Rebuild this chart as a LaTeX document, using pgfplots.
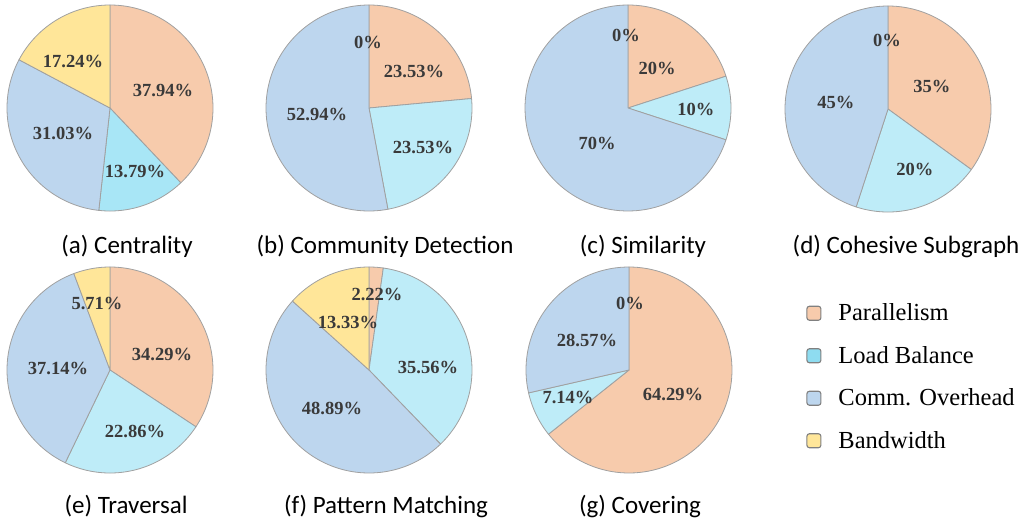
\documentclass[border=0pt]{standalone}
\usepackage{pgfplots}
\pgfplotsset{compat=1.18}
\usepackage{fontspec}
\setmainfont{Liberation Serif}
\newfontfamily\capfont{Carlito}
\definecolor{cPar}{HTML}{F7CBAC}
\definecolor{cLB}{HTML}{BEECF8}
\definecolor{cLBa}{HTML}{A8E6F6}
\definecolor{cLBleg}{HTML}{8EDCF0}
\definecolor{cCom}{HTML}{BDD6EE}
\definecolor{cBW}{HTML}{FFE699}
\definecolor{cEdge}{HTML}{A0A0A0}
\definecolor{cTxt}{HTML}{3A3A3A}

\gdef\cum{0}
\newcommand{\slice}[2]{%
  \pgfmathsetmacro\sA{90-3.6*\cum}%
  \pgfmathsetmacro\sB{90-3.6*(\cum+#1)}%
  \pgfmathsetmacro\newcum{\cum+#1}%
  \xdef\cum{\newcum}%
  \ifdim #1pt>0pt
    \edef\tmpplot{\noexpand\addplot[forget plot, fill=#2, draw=cEdge, line width=0.8pt, line join=round, domain=\sB:\sA, samples=90]}%
    \tmpplot ({cos(x)},{sin(x)}) -- (axis cs:0,0) -- cycle;
  \fi
}
\pgfplotsset{
  pie/.style={hide axis, scale only axis, width=206pt, height=206pt,
    xmin=-1, xmax=1, ymin=-1, ymax=1, anchor=center, clip=false},
}
\tikzset{
  lab/.style={font=\bfseries\fontsize{18.5}{18.5}\selectfont, text=cTxt, inner sep=0pt},
  captxt/.style={font=\capfont\fontsize{25}{25}\selectfont, anchor=base, inner sep=0pt},
}

\begin{document}
\begin{tikzpicture}
\path[use as bounding box] (0pt,0pt) rectangle (1023pt,-523pt);

% (a) Centrality
\begin{axis}[pie, at={(110pt,-108pt)}]
\gdef\cum{0}
\slice{37.94}{cPar}
\slice{13.79}{cLBa}
\slice{31.03}{cCom}
\slice{17.24}{cBW}
\node[lab] at (axis cs:0.515,0.175) {37.94\%};
\node[lab] at (axis cs:0.243,-0.621) {13.79\%};
\node[lab] at (axis cs:-0.456,-0.252) {31.03\%};
\node[lab] at (axis cs:-0.359,0.456) {17.24\%};
\end{axis}

% (b) Community Detection
\begin{axis}[pie, at={(369pt,-108pt)}]
\gdef\cum{0}
\slice{23.53}{cPar}
\slice{23.53}{cLB}
\slice{52.94}{cCom}
\slice{0}{cBW}
\node[lab] at (axis cs:0.437,0.350) {23.53\%};
\node[lab] at (axis cs:0.524,-0.379) {23.53\%};
\node[lab] at (axis cs:-0.505,-0.058) {52.94\%};
\node[lab] at (axis cs:-0.01,0.641) {0\%};
\end{axis}

% (c) Similarity
\begin{axis}[pie, at={(628pt,-108pt)}]
\gdef\cum{0}
\slice{20}{cPar}
\slice{10}{cLB}
\slice{70}{cCom}
\slice{0}{cBW}
\node[lab] at (axis cs:0.282,0.388) {20\%};
\node[lab] at (axis cs:0.660,-0.019) {10\%};
\node[lab] at (axis cs:-0.301,-0.340) {70\%};
\node[lab] at (axis cs:-0.019,0.709) {0\%};
\end{axis}

% (d) Cohesive Subgraph
\begin{axis}[pie, at={(888pt,-109pt)}]
\gdef\cum{0}
\slice{35}{cPar}
\slice{20}{cLB}
\slice{45}{cCom}
\slice{0}{cBW}
\node[lab] at (axis cs:0.427,0.223) {35\%};
\node[lab] at (axis cs:0.262,-0.583) {20\%};
\node[lab] at (axis cs:-0.505,0.068) {45\%};
\node[lab] at (axis cs:-0.01,0.670) {0\%};
\end{axis}

% (e) Traversal
\begin{axis}[pie, at={(110pt,-370pt)}]
\gdef\cum{0}
\slice{34.29}{cPar}
\slice{22.86}{cLB}
\slice{37.14}{cCom}
\slice{5.71}{cBW}
\node[lab] at (axis cs:0.505,0.155) {34.29\%};
\node[lab] at (axis cs:0.243,-0.592) {22.86\%};
\node[lab] at (axis cs:-0.505,0.019) {37.14\%};
\node[lab] at (axis cs:-0.126,0.650) {5.71\%};
\end{axis}

% (f) Pattern Matching
\begin{axis}[pie, at={(369pt,-370pt)}]
\gdef\cum{0}
\slice{2.22}{cPar}
\slice{35.56}{cLB}
\slice{48.89}{cCom}
\slice{13.33}{cBW}
\node[lab] at (axis cs:0.078,0.738) {2.22\%};
\node[lab] at (axis cs:0.573,0.029) {35.56\%};
\node[lab] at (axis cs:-0.359,-0.369) {48.89\%};
\node[lab] at (axis cs:-0.204,0.466) {13.33\%};
\end{axis}

% (g) Covering + legend
\begin{axis}[pie, at={(629pt,-370pt)},
  legend style={at={(1.36,0.836)}, anchor=north west, draw=none, fill=none,
    font=\fontsize{24.5}{24.5}\selectfont, row sep=18pt, inner sep=0pt,
    nodes={inner sep=3pt}},
  legend cell align=left]
\gdef\cum{0}
\slice{64.29}{cPar}
\slice{7.14}{cLB}
\slice{28.57}{cCom}
\slice{0}{cBW}
\node[lab] at (axis cs:0.427,-0.233) {64.29\%};
\node[lab] at (axis cs:-0.592,-0.262) {7.14\%};
\node[lab] at (axis cs:-0.408,0.291) {28.57\%};
\node[lab] at (axis cs:0.01,0.650) {0\%};
\addlegendimage{legend image code/.code={\draw[rounded corners=2.5pt, draw=gray, line width=1.1pt, fill=cPar] (0pt,-7pt) rectangle (14pt,7pt);}}
\addlegendentry{\hspace{14pt}Parallelism}
\addlegendimage{legend image code/.code={\draw[rounded corners=2.5pt, draw=gray, line width=1.1pt, fill=cLBleg] (0pt,-7pt) rectangle (14pt,7pt);}}
\addlegendentry{\hspace{14pt}Load Balance}
\addlegendimage{legend image code/.code={\draw[rounded corners=2.5pt, draw=gray, line width=1.1pt, fill=cCom] (0pt,-7pt) rectangle (14pt,7pt);}}
\addlegendentry{\hspace{14pt}Comm. Overhead}
\addlegendimage{legend image code/.code={\draw[rounded corners=2.5pt, draw=gray, line width=1.1pt, fill=cBW] (0pt,-7pt) rectangle (14pt,7pt);}}
\addlegendentry{\hspace{14pt}Bandwidth}
\end{axis}

% captions
\node[captxt] at (127pt,-253pt) {(a) Centrality};
\node[captxt] at (385pt,-253pt) {(b) Community Detection};
\node[captxt] at (643pt,-253pt) {(c) Similarity};
\node[captxt] at (906pt,-253pt) {(d) Cohesive Subgraph};
\node[captxt] at (126pt,-513pt) {(e) Traversal};
\node[captxt] at (386pt,-513pt) {(f) Pattern Matching};
\node[captxt] at (640pt,-513pt) {(g) Covering};
\end{tikzpicture}
\end{document}
